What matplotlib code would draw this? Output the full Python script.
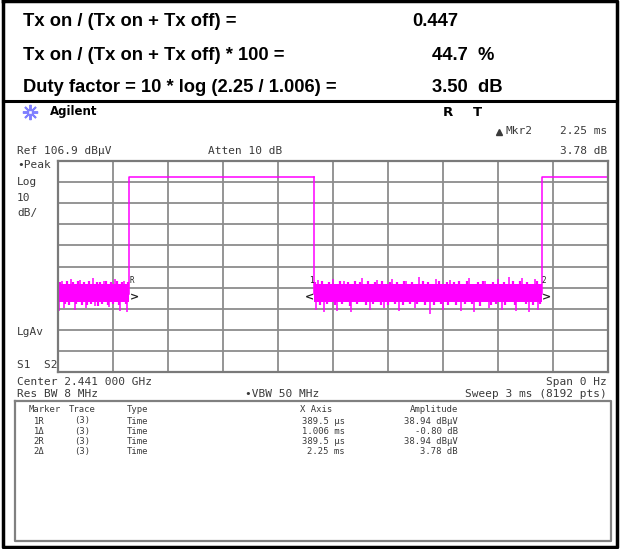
# -*- coding: utf-8 -*-
import matplotlib
matplotlib.use("Agg")
import matplotlib.pyplot as plt
import numpy as np

# =========================
# data
header_lines = ["Tx on / (Tx on + Tx off) =",
                "Tx on / (Tx on + Tx off) * 100 =",
                "Duty factor = 10 * log (2.25 / 1.006) ="]
header_values = ["0.447", "44.7  %", "3.50  dB"]

ref_level = 106.9          # dBuV, top of screen
db_per_div = 10
sweep_ms = 3.0

on_start = [0.3895, 2.6395]   # ms
on_stop = [1.3955, 3.0]
on_level = 99.3               # dBuV
noise_start = [0.0, 1.3955]
noise_stop = [0.3895, 2.6395]
noise_top = 48.5
noise_bot = 40.0
noise_mid = 44.0

# long spikes
spike_t = [0.005, 0.02, 0.03, 0.07, 0.09, 0.12, 0.15, 0.19, 0.2, 0.25, 0.28, 0.31, 0.34, 0.36, 0.375,
           1.41, 1.42, 1.45, 1.5, 1.52, 1.56, 1.6, 1.66, 1.7, 1.74, 1.78, 1.82, 1.86, 1.9, 1.95, 1.97,
           2.03, 2.06, 2.1, 2.14, 2.2, 2.24, 2.27, 2.33, 2.35, 2.4, 2.42, 2.46, 2.5, 2.53, 2.57, 2.6, 2.62]
spike_v = [36.0, 50.0, 37.0, 51.0, 36.5, 50.5, 37.0, 51.5, 38.0, 50.0, 37.5, 51.0, 36.0, 50.0, 35.5,
           36.5, 50.5, 35.5, 51.0, 36.0, 50.0, 35.5, 51.5, 36.5, 50.5, 37.0, 51.0, 36.0, 50.0, 37.0, 52.0,
           34.5, 51.0, 36.5, 50.5, 36.0, 51.5, 35.5, 50.0, 37.0, 51.0, 36.5, 52.0, 36.0, 51.5, 35.5, 51.0, 36.5]

# short spikes that make the ragged edge of the band
edge_t = [0.01, 0.04, 0.05, 0.06, 0.08, 0.1, 0.11, 0.13, 0.14, 0.16, 0.17, 0.18, 0.21, 0.22, 0.23,
          0.24, 0.26, 0.27, 0.29, 0.3, 0.32, 0.33, 0.35, 0.37, 0.38,
          1.40, 1.43, 1.44, 1.47, 1.48, 1.51, 1.54, 1.55, 1.58, 1.59, 1.62, 1.63, 1.65, 1.68, 1.69,
          1.72, 1.73, 1.76, 1.77, 1.8, 1.81, 1.84, 1.85, 1.88, 1.89, 1.92, 1.93, 1.96, 1.99, 2.0,
          2.02, 2.05, 2.08, 2.09, 2.12, 2.13, 2.16, 2.17, 2.19, 2.22, 2.23, 2.26, 2.29, 2.3, 2.32,
          2.36, 2.37, 2.39, 2.43, 2.44, 2.48, 2.49, 2.52, 2.55, 2.56, 2.59, 2.61, 2.63]
edge_v = [49.5, 39.0, 49.8, 38.5, 49.6, 39.2, 50.0, 38.8, 49.4, 38.6, 49.9, 39.1, 49.7, 38.4, 49.5,
          39.0, 49.8, 38.7, 49.6, 39.3, 50.0, 38.5, 49.4, 38.9, 49.7,
          49.6, 38.8, 49.9, 39.0, 49.5, 38.6, 49.8, 38.9, 49.7, 38.4, 50.0, 39.1, 49.6, 38.7, 49.8,
          39.0, 49.5, 38.5, 49.9, 38.8, 49.7, 39.2, 49.6, 38.6, 50.1, 38.9, 49.5, 39.0, 49.8, 38.7,
          49.6, 38.5, 49.9, 39.1, 49.7, 38.8, 49.5, 38.6, 50.0, 38.9, 49.8, 39.0, 49.6, 38.4, 49.9,
          38.7, 49.7, 39.1, 49.5, 38.6, 50.0, 38.8, 49.8, 39.0, 49.6, 38.5, 49.9, 38.9]

marker_t = [0.3895, 1.3955, 2.6395]
marker_lbl = ["R", "1", "2"]
marker_sym = [">", "<", ">"]
marker_lvl = 42.5

table_cols = ["Marker", "Trace", "Type", "X Axis", "Amplitude"]
table_marker = ["1R", "1\u0394", "2R", "2\u0394"]
table_trace = ["(3)", "(3)", "(3)", "(3)"]
table_type = ["Time", "Time", "Time", "Time"]
table_x = ["389.5 \u00b5s", "1.006 ms", "389.5 \u00b5s", "2.25 ms"]
table_amp = ["38.94 dB\u00b5V", "-0.80 dB", "38.94 dB\u00b5V", "3.78 dB"]

W, H = 620, 549
MAG = "#ff00ff"
TXT = "#3a3a3a"
MONO = "DejaVu Sans Mono"
HEAD = ["Liberation Sans Narrow", "Liberation Sans", "DejaVu Sans"]

fig = plt.figure(figsize=(W / 100, H / 100), dpi=100)
bg = fig.add_axes([0, 0, 1, 1])
bg.set_xlim(0, W)
bg.set_ylim(H, 0)
bg.axis("off")

# ===== outer frame =====
bg.plot([3, 3, 617, 617, 3], [1, 547, 547, 1, 1], color="black", lw=2.5)
bg.plot([3, 617], [101, 101], color="black", lw=2.2)

# ===== header text =====
for i, (s, v) in enumerate(zip(header_lines, header_values)):
    y = 22 + 33 * i
    bg.text(23, y, s, fontsize=13.2, fontweight="bold", family=HEAD, va="center", ha="left")
    bg.text(412 if i == 0 else 432, y, v, fontsize=13.2, fontweight="bold", family=HEAD,
            va="center", ha="left")

# ===== instrument header =====
bg.plot(30, 112, marker=(8, 2, 0), ms=11, color="#8080ff", mew=1.4)
bg.plot(30, 112, marker="s", ms=3.5, mfc="white", mec="#8080ff", mew=1)
bg.text(50, 112, "Agilent", fontsize=8.5, fontweight="bold", family="DejaVu Sans", va="center")
bg.text(443, 112, "R", fontsize=9.5, fontweight="bold", family="DejaVu Sans", va="center")
bg.text(473, 112, "T", fontsize=9.5, fontweight="bold", family="DejaVu Sans", va="center")
bg.plot(499, 132, marker="^", ms=4, color=TXT)
bg.text(505, 131, "Mkr2", fontsize=8, family=MONO, color=TXT, va="center")
bg.text(607, 131, "2.25 ms", fontsize=8, family=MONO, color=TXT, va="center", ha="right")
bg.text(607, 151, "3.78 dB", fontsize=8, family=MONO, color=TXT, va="center", ha="right")
bg.text(17, 151, "Ref 106.9 dB\u00b5V", fontsize=8, family=MONO, color=TXT, va="center")
bg.text(208, 151, "Atten 10 dB", fontsize=8, family=MONO, color=TXT, va="center")

for s, y in [("\u2022Peak", 165), ("Log", 182), ("10", 198), ("dB/", 213), ("LgAv", 332), ("S1  S2", 365)]:
    bg.text(17, y, s, fontsize=8, family=MONO, color=TXT, va="center")

bg.text(17, 382, "Center 2.441 000 GHz", fontsize=8, family=MONO, color=TXT, va="center")
bg.text(607, 382, "Span 0 Hz", fontsize=8, family=MONO, color=TXT, va="center", ha="right")
bg.text(17, 394, "Res BW 8 MHz", fontsize=8, family=MONO, color=TXT, va="center")
bg.text(245, 394, "\u2022VBW 50 MHz", fontsize=8, family=MONO, color=TXT, va="center")
bg.text(607, 394, "Sweep 3 ms (8192 pts)", fontsize=8, family=MONO, color=TXT, va="center", ha="right")

# ===== marker table =====
bg.plot([15, 15, 611, 611, 15], [401, 541, 541, 401, 401], color="#808080", lw=1.6)
col_x = [45, 82, 127, 300, 458]
col_ha = ["center", "center", "left", "left", "right"]
for x, ha, s in zip(col_x, col_ha, table_cols):
    bg.text(x, 410, s, fontsize=6.4, family=MONO, color=TXT, va="center", ha=ha)
for r in range(4):
    y = 421 + 10.3 * r
    bg.text(39, y, table_marker[r], fontsize=6.4, family=MONO, color=TXT, va="center", ha="center")
    bg.text(82, y, table_trace[r], fontsize=6.4, family=MONO, color=TXT, va="center", ha="center")
    bg.text(127, y, table_type[r], fontsize=6.4, family=MONO, color=TXT, va="center", ha="left")
    bg.text(345, y, table_x[r], fontsize=6.4, family=MONO, color=TXT, va="center", ha="right")
    bg.text(458, y, table_amp[r], fontsize=6.4, family=MONO, color=TXT, va="center", ha="right")

# ===== trace screen =====
ax = fig.add_axes([58 / W, 1 - 372 / H, 550 / W, 211 / H])
ax.set_xlim(0, sweep_ms)
ax.set_ylim(ref_level - 10 * db_per_div, ref_level)
ax.set_xticks(np.linspace(0, sweep_ms, 11))
ax.set_yticks(np.linspace(ref_level - 10 * db_per_div, ref_level, 11))
ax.tick_params(length=0, labelbottom=False, labelleft=False)
ax.grid(True, color="#8c8c8c", lw=1.3)
ax.set_axisbelow(True)
for sp in ax.spines.values():
    sp.set_color("#7a7a7a")
    sp.set_linewidth(1.6)

for t0, t1 in zip(noise_start, noise_stop):
    ax.fill_between([t0, t1], noise_bot, noise_top, color=MAG, lw=0)
ax.vlines(edge_t, noise_mid, edge_v, color=MAG, lw=1.6)
ax.vlines(spike_t, noise_mid, spike_v, color=MAG, lw=1.1)
for t0, t1 in zip(on_start, on_stop):
    ax.plot([t0, t0, t1], [noise_mid, on_level, on_level], color=MAG, lw=1.1)
ax.plot([on_stop[0], on_stop[0]], [on_level, noise_mid], color=MAG, lw=1.1)

for t, lbl, sym in zip(marker_t, marker_lbl, marker_sym):
    ax.text(t, marker_lvl, sym, fontsize=8, fontweight="bold", color="#222222",
            ha="left" if sym == ">" else "right", va="center", family="DejaVu Sans")
    ax.text(t, marker_lvl + 8, lbl, fontsize=5.5, color="#222222",
            ha="left" if sym == ">" else "right", va="center", family=MONO)

fig.savefig("out.png", dpi=100)
